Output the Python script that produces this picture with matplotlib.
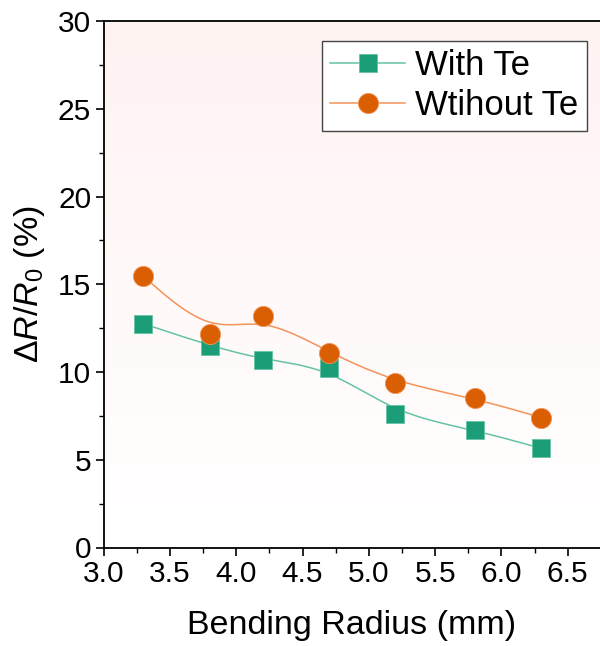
import numpy as np
import matplotlib
matplotlib.use("Agg")
import matplotlib.pyplot as plt
from matplotlib.lines import Line2D

plt.rcParams['font.family'] = ['Liberation Sans', 'DejaVu Sans']
plt.rcParams['mathtext.fontset'] = 'custom'
plt.rcParams['mathtext.rm'] = 'Liberation Sans'
plt.rcParams['mathtext.it'] = 'Liberation Sans:italic'

radius = [3.3, 3.8, 4.2, 4.7, 5.2, 5.8, 6.3]
with_te = [12.75, 11.5, 10.7, 10.25, 7.6, 6.7, 5.65]
without_te = [15.45, 12.15, 13.2, 11.1, 9.4, 8.5, 7.4]
series_names = ["With Te", "Wtihout Te"]
xticks = [3.0, 3.5, 4.0, 4.5, 5.0, 5.5, 6.0, 6.5]
yticks = [0, 5, 10, 15, 20, 25, 30]


def bspline(xs, ys, n=40):
    # clamped uniform cubic B-spline using data as control points
    P = np.column_stack([xs, ys]).astype(float)
    P = np.vstack([P[0], P[0], P, P[-1], P[-1]])
    out = []
    for i in range(len(P) - 3):
        t = np.linspace(0, 1, n)[:, None]
        b0 = (1 - t) ** 3 / 6
        b1 = (3 * t ** 3 - 6 * t ** 2 + 4) / 6
        b2 = (-3 * t ** 3 + 3 * t ** 2 + 3 * t + 1) / 6
        b3 = t ** 3 / 6
        out.append(b0 * P[i] + b1 * P[i + 1] + b2 * P[i + 2] + b3 * P[i + 3])
    c = np.vstack(out)
    return c[:, 0], c[:, 1]


fig = plt.figure(figsize=(6.0, 6.46), dpi=100)
left = 103.7 / 600
bottom = (646 - 547.5) / 646
top = (646 - 21) / 646
ax = fig.add_axes([left, bottom, 1.0 - left, top - bottom])

xmax = 3.0 + (600 - 103.7) / 132.6
ax.set_xlim(3.0, xmax)
ax.set_ylim(0, 30)

# background gradient (pink at top fading to white)
grad = np.linspace(0, 1, 256)[:, None]
top_c = np.array([1.0, 0.953, 0.950])
bot_c = np.array([1.0, 1.0, 1.0])
img = bot_c * (1 - grad[..., None]) + top_c * grad[..., None]
img = np.repeat(img, 2, axis=1)
ax.imshow(img, extent=[3.0, xmax, 0, 30], origin='lower', aspect='auto', zorder=0)

green = '#1b9e77'
green_l = '#66c2a5'
orange = '#d95f02'
orange_l = '#f4935a'

gx, gy = bspline(radius, with_te)
ox, oy = bspline(radius, without_te)
ax.plot(gx, gy, color=green_l, lw=1.1, zorder=2)
ax.plot(ox, oy, color=orange_l, lw=1.1, zorder=2)
ax.plot(radius, with_te, 's', color=green, ms=12.5, mec=green_l, mew=0.6, zorder=3)
ax.plot(radius, without_te, 'o', color=orange, ms=14.5, mec=orange_l, mew=0.6, zorder=4)

ax.set_xticks(xticks)
ax.set_xticklabels([f"{v:.1f}" for v in xticks])
ax.set_yticks(yticks)
ax.set_xticks(np.arange(3.25, 6.75, 0.5), minor=True)
ax.set_yticks(np.arange(2.5, 30, 5), minor=True)
ax.tick_params(axis='both', which='major', direction='out', length=6, width=1.2, labelsize=21.5, pad=3)
ax.tick_params(axis='both', which='minor', direction='out', length=3.5, width=1.0)
for s in ['left', 'bottom', 'top']:
    ax.spines[s].set_linewidth(1.3)
ax.spines['right'].set_visible(False)

ax.set_xlabel("Bending Radius (mm)", fontsize=24.5, labelpad=16)
ax.set_ylabel(r"$\Delta R/R_0$ (%)", fontsize=24.5, labelpad=8)

handles = [
    Line2D([], [], color=green_l, lw=1.1, marker='s', ms=12.5, mfc=green, mec=green_l, mew=0.6),
    Line2D([], [], color=orange_l, lw=1.1, marker='o', ms=14.5, mfc=orange, mec=orange_l, mew=0.6),
]
leg = ax.legend(handles, series_names, loc='upper left',
                bbox_to_anchor=((321.7 - 103.7) / (600 - 103.7), (547.5 - 40.7) / 526.5),
                fontsize=25, frameon=True, fancybox=False, edgecolor='#444444', handlelength=2.15,
                handletextpad=0.3, borderpad=0.25, labelspacing=0.2, borderaxespad=0)
leg.get_frame().set_linewidth(1.0)
leg.get_frame().set_facecolor('white')
leg.get_frame().set_alpha(1.0)

fig.savefig("out.png", dpi=100)
